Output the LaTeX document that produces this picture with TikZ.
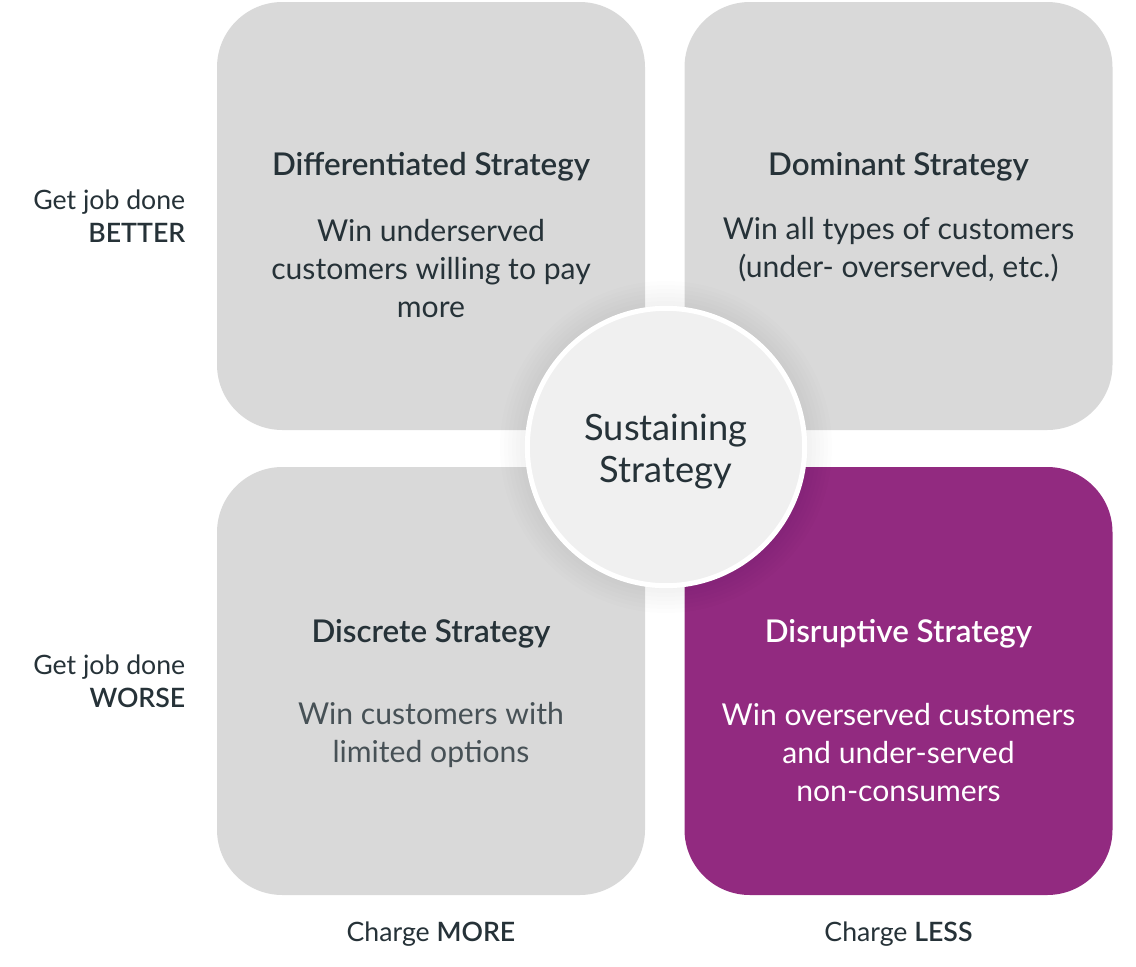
\documentclass[tikz,border=0pt]{standalone}
\usepackage{fontspec}
\setmainfont{Lato}[BoldFont={Lato Semibold}]
\definecolor{boxgrey}{HTML}{D9D9D9}
\definecolor{hubgrey}{HTML}{F0F0F0}
\definecolor{plum}{HTML}{922A80}
\definecolor{ink}{HTML}{263238}
\begin{document}
\begin{tikzpicture}[x=0.75pt,y=-0.75pt,
    quad/.style={rounded corners=49pt,minimum width=321pt,minimum height=321pt,inner sep=0pt},
    head/.style={font=\fontsize{23.5}{28}\selectfont\bfseries,text=ink},
    body/.style={font=\fontsize{22.6}{28.5}\selectfont,align=center,text=ink},
    side/.style={font=\fontsize{20}{24.5}\selectfont,align=right,text=ink,anchor=east}]
  \useasboundingbox (0,0) rectangle (1136,967);
  \node[quad,fill=boxgrey] (better) at (431,216) {};
  \node[quad,fill=boxgrey] (dominant) at (898.5,216) {};
  \node[quad,fill=boxgrey] (worse) at (431,681) {};
  \node[quad,fill=plum] (cheaper) at (898.5,681) {};
  % soft glow round the hub
  \foreach \r in {142,146,...,166}
    \fill[black,opacity=0.007] (666,447) circle[radius=0.75*\r pt];
  \node[circle,fill=hubgrey,draw=white,line width=3.75pt,minimum size=208pt] (hub) at (666,447) {};
  \node[font=\fontsize{27.2}{31.5}\selectfont,align=center,text=ink] (hubtext) at (666,452)
    {Sustaining\\Strategy};
  \node[head] (t1) at (431,167) {Differentiated Strategy};
  \node[body] (b1) at (431,269) {Win underserved\\customers willing to pay\\more};
  \node[head] (t2) at (898.5,167) {Dominant Strategy};
  \node[body] (b2) at (898.5,250) {Win all types of customers\\(under- overserved, etc.)};
  \node[head] (t3) at (431,634) {Discrete Strategy};
  \node[body,text=ink!85] (b3) at (431,734.5) {Win customers with\\limited options};
  \node[head,text=white] (t4) at (898.5,634) {Disruptive Strategy};
  \node[body,text=white] (b4) at (898.5,753) {Win overserved customers\\and under-served\\non-consumers};
  \node[side] (up) at (190,216) {Get job done\\\textbf{BETTER}};
  \node[side] (down) at (190,681) {Get job done\\\textbf{WORSE}};
  \node[side,anchor=center,align=center] (more) at (431,934) {Charge \textbf{MORE}};
  \node[side,anchor=center,align=center] (less) at (898.5,934) {Charge \textbf{LESS}};
\end{tikzpicture}
\end{document}
